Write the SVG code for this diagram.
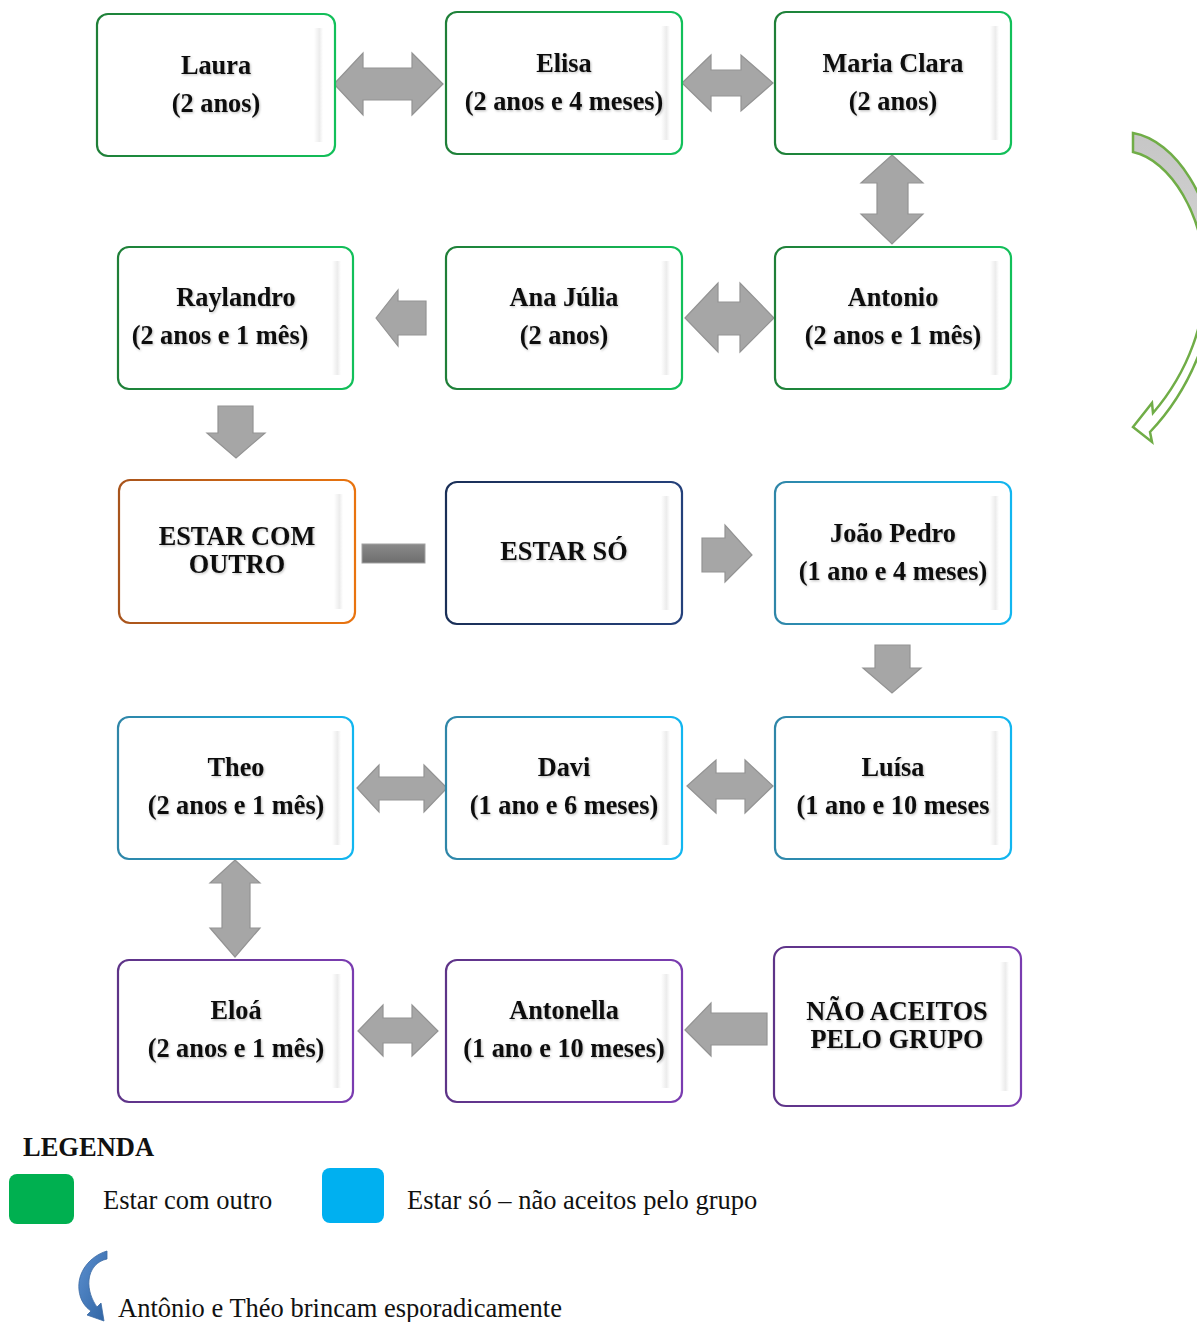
<svg xmlns="http://www.w3.org/2000/svg" width="1197" height="1322" viewBox="0 0 1197 1322">
  <defs>
    <linearGradient id="gGreen" x1="0" y1="0" x2="1" y2="0">
      <stop offset="0" stop-color="#1f7f38"/>
      <stop offset="1" stop-color="#12c05a"/>
    </linearGradient>
    <linearGradient id="gOrange" x1="0" y1="0" x2="1" y2="0">
      <stop offset="0" stop-color="#a8541c"/>
      <stop offset="1" stop-color="#e9740f"/>
    </linearGradient>
    <linearGradient id="gNavy" x1="0" y1="0" x2="1" y2="0">
      <stop offset="0" stop-color="#1a2f57"/>
      <stop offset="1" stop-color="#24407a"/>
    </linearGradient>
    <linearGradient id="gCyan" x1="0" y1="0" x2="1" y2="0">
      <stop offset="0" stop-color="#2f86a8"/>
      <stop offset="1" stop-color="#12b6f0"/>
    </linearGradient>
    <linearGradient id="gPurple" x1="0" y1="0" x2="1" y2="0">
      <stop offset="0" stop-color="#5e3488"/>
      <stop offset="1" stop-color="#7a3cb0"/>
    </linearGradient>
    <linearGradient id="gBevel" x1="0" y1="0" x2="1" y2="0">
      <stop offset="0" stop-color="#ffffff"/>
      <stop offset="0.6" stop-color="#ececec"/>
      <stop offset="1" stop-color="#ffffff"/>
    </linearGradient>
    <linearGradient id="gDash" x1="0" y1="0" x2="0" y2="1">
      <stop offset="0" stop-color="#8a8a8a"/>
      <stop offset="1" stop-color="#6e6e6e"/>
    </linearGradient>
    <linearGradient id="gCurve" x1="0" y1="0" x2="0" y2="1">
      <stop offset="0" stop-color="#c6c6c6"/>
      <stop offset="0.38" stop-color="#d2d2d2"/>
      <stop offset="0.5" stop-color="#ffffff"/>
    </linearGradient>
    <linearGradient id="gBlue" x1="0" y1="0" x2="1" y2="1">
      <stop offset="0" stop-color="#5b8fcf"/>
      <stop offset="1" stop-color="#2f64a3"/>
    </linearGradient>
    <filter id="txtShadow" x="-10%" y="-30%" width="120%" height="160%">
      <feDropShadow dx="1" dy="1.2" stdDeviation="0.8" flood-color="#000" flood-opacity="0.25"/>
    </filter>
  </defs>
  <style>
    .box { fill: #ffffff; stroke-width: 2.2; }
    .green { stroke: url(#gGreen); }
    .orange { stroke: url(#gOrange); }
    .navy { stroke: url(#gNavy); }
    .cyan { stroke: url(#gCyan); }
    .purple { stroke: url(#gPurple); }
    .bevel { fill: url(#gBevel); }
    .lbl { font-family: "Liberation Serif", "Times New Roman", serif; font-weight: bold; font-size: 26.3px; fill: #0d0d0d; text-anchor: middle; filter: url(#txtShadow); }
    .arrow { fill: #a6a6a6; stroke: #939393; stroke-width: 1.2; stroke-linejoin: miter; }
    .legend { font-family: "Liberation Serif", "Times New Roman", serif; font-size: 26.5px; fill: #111; }
    .legendTitle { font-weight: bold; }
  </style>

  <rect width="1197" height="1322" fill="#ffffff"/>

  <!-- connectors: grey block arrows between the boxes -->
  <g id="connectors">
    <polygon class="arrow" points="334,84 363,53 363,68 412,68 412,53 443,84 412,115 412,100 363,100 363,115"/>
    <polygon class="arrow" points="682,83 711,55 711,70 741,70 741,55 773,83 741,111 741,96 711,96 711,111"/>
    <polygon class="arrow" points="892,155 923,183 908,183 908,214 923,214 892,244 861,214 877,214 877,183 861,183"/>
    <polygon class="arrow" points="376,318 398,290 398,301 426,301 426,335 398,335 398,346"/>
    <polygon class="arrow" points="685,318 718,283 718,302 740,302 740,283 774,318 740,352 740,335 718,335 718,352"/>
    <polygon class="arrow" points="218,406 253,406 253,433 265,433 236,458 207,433 218,433"/>
    <rect x="362" y="544" width="63" height="19" fill="url(#gDash)" stroke="#a2a2a2" stroke-width="1"/>
    <polygon class="arrow" points="702,538 725,538 725,525 752,555 725,582 725,572 702,572"/>
    <polygon class="arrow" points="875,645 910,645 910,668 921,668 892,693 863,668 875,668"/>
    <polygon class="arrow" points="357,788 379,765 379,777 424,777 424,765 447,788 424,812 424,800 379,800 379,812"/>
    <polygon class="arrow" points="687,786 716,760 716,773 745,773 745,760 773,786 745,813 745,799 716,799 716,813"/>
    <polygon class="arrow" points="235,860 260,883 250,883 250,928 260,928 235,957 210,928 222,928 222,883 210,883"/>
    <polygon class="arrow" points="358,1031 383,1005 383,1018 412,1018 412,1005 438,1031 412,1056 412,1043 383,1043 383,1056"/>
    <polygon class="arrow" points="685,1030 711,1003 711,1013 767,1013 767,1045 711,1045 711,1056"/>
    <!-- large curved arrow on the right edge -->
    <path d="M1133,133 C1175,140 1215,200 1215,270 C1215,330 1190,390 1150,432 L1152,442 L1133,427 L1152,403 L1153,413 C1190,370 1205,320 1205,280 C1205,215 1170,160 1133,152 Z" fill="url(#gCurve)" stroke="#70ad47" stroke-width="2.5" stroke-linejoin="miter"/>
  </g>

  <!-- row 1 -->
  <g id="node-laura">
    <rect class="box green" x="97" y="14" width="238" height="142" rx="11"/>
    <rect class="bevel" x="314" y="28" width="9" height="114"/>
    <text class="lbl" x="216" y="74">Laura</text>
    <text class="lbl" x="216" y="112">(2 anos)</text>
  </g>
  <g id="node-elisa">
    <rect class="box green" x="446" y="12" width="236" height="142" rx="11"/>
    <rect class="bevel" x="661" y="26" width="9" height="114"/>
    <text class="lbl" x="564" y="72">Elisa</text>
    <text class="lbl" x="564" y="110">(2 anos e 4 meses)</text>
  </g>
  <g id="node-maria-clara">
    <rect class="box green" x="775" y="12" width="236" height="142" rx="11"/>
    <rect class="bevel" x="990" y="26" width="9" height="114"/>
    <text class="lbl" x="893" y="72">Maria Clara</text>
    <text class="lbl" x="893" y="110">(2 anos)</text>
  </g>

  <!-- row 2 -->
  <g id="node-raylandro">
    <rect class="box green" x="118" y="247" width="235" height="142" rx="11"/>
    <rect class="bevel" x="332" y="261" width="9" height="114"/>
    <text class="lbl" x="236" y="306">Raylandro</text>
    <text class="lbl" x="220" y="344">(2 anos e 1 mês)</text>
  </g>
  <g id="node-ana-julia">
    <rect class="box green" x="446" y="247" width="236" height="142" rx="11"/>
    <rect class="bevel" x="661" y="261" width="9" height="114"/>
    <text class="lbl" x="564" y="306">Ana Júlia</text>
    <text class="lbl" x="564" y="344">(2 anos)</text>
  </g>
  <g id="node-antonio">
    <rect class="box green" x="775" y="247" width="236" height="142" rx="11"/>
    <rect class="bevel" x="990" y="261" width="9" height="114"/>
    <text class="lbl" x="893" y="306">Antonio</text>
    <text class="lbl" x="893" y="344">(2 anos e 1 mês)</text>
  </g>

  <!-- row 3 -->
  <g id="node-estar-com-outro">
    <rect class="box orange" x="119" y="480" width="236" height="143" rx="11"/>
    <rect class="bevel" x="334" y="494" width="9" height="115"/>
    <text class="lbl" x="237" y="545">ESTAR COM</text>
    <text class="lbl" x="237" y="573">OUTRO</text>
  </g>
  <g id="node-estar-so">
    <rect class="box navy" x="446" y="482" width="236" height="142" rx="11"/>
    <rect class="bevel" x="661" y="496" width="9" height="114"/>
    <text class="lbl" x="564" y="560">ESTAR SÓ</text>
  </g>
  <g id="node-joao-pedro">
    <rect class="box cyan" x="775" y="482" width="236" height="142" rx="11"/>
    <rect class="bevel" x="990" y="496" width="9" height="114"/>
    <text class="lbl" x="893" y="542">João Pedro</text>
    <text class="lbl" x="893" y="580">(1 ano e 4 meses)</text>
  </g>

  <!-- row 4 -->
  <g id="node-theo">
    <rect class="box cyan" x="118" y="717" width="235" height="142" rx="11"/>
    <rect class="bevel" x="332" y="731" width="9" height="114"/>
    <text class="lbl" x="236" y="776">Theo</text>
    <text class="lbl" x="236" y="814">(2 anos e 1 mês)</text>
  </g>
  <g id="node-davi">
    <rect class="box cyan" x="446" y="717" width="236" height="142" rx="11"/>
    <rect class="bevel" x="661" y="731" width="9" height="114"/>
    <text class="lbl" x="564" y="776">Davi</text>
    <text class="lbl" x="564" y="814">(1 ano e 6 meses)</text>
  </g>
  <g id="node-luisa">
    <rect class="box cyan" x="775" y="717" width="236" height="142" rx="11"/>
    <rect class="bevel" x="990" y="731" width="9" height="114"/>
    <text class="lbl" x="893" y="776">Luísa</text>
    <text class="lbl" x="893" y="814">(1 ano e 10 meses</text>
  </g>

  <!-- row 5 -->
  <g id="node-eloa">
    <rect class="box purple" x="118" y="960" width="235" height="142" rx="11"/>
    <rect class="bevel" x="332" y="974" width="9" height="114"/>
    <text class="lbl" x="236" y="1019">Eloá</text>
    <text class="lbl" x="236" y="1057">(2 anos e 1 mês)</text>
  </g>
  <g id="node-antonella">
    <rect class="box purple" x="446" y="960" width="236" height="142" rx="11"/>
    <rect class="bevel" x="661" y="974" width="9" height="114"/>
    <text class="lbl" x="564" y="1019">Antonella</text>
    <text class="lbl" x="564" y="1057">(1 ano e 10 meses)</text>
  </g>
  <g id="node-nao-aceitos">
    <rect class="box purple" x="774" y="947" width="247" height="159" rx="12"/>
    <rect class="bevel" x="1000" y="962" width="9" height="129"/>
    <text class="lbl" x="897" y="1020">NÃO ACEITOS</text>
    <text class="lbl" x="897" y="1048">PELO GRUPO</text>
  </g>

  <!-- legend -->
  <g id="legend">
    <text class="legend legendTitle" x="23" y="1156">LEGENDA</text>
    <rect x="9" y="1174" width="65" height="50" rx="8" fill="#00b050"/>
    <text class="legend" x="103" y="1209">Estar com outro</text>
    <rect x="322" y="1168" width="62" height="55" rx="8" fill="#00b0f0"/>
    <text class="legend" x="407" y="1209">Estar só – não aceitos pelo grupo</text>
    <path d="M107,1251 C90,1256 77,1272 79,1290 C80,1300 85,1307 91,1311 L87,1315 L104,1321 L101,1303 L97,1307 C92,1300 88,1290 89,1280 C90,1269 97,1261 107,1259 Z" fill="url(#gBlue)" stroke="#3b6aa3" stroke-width="0.8"/>
    <text class="legend" x="118" y="1317">Antônio e Théo brincam esporadicamente</text>
  </g>
</svg>
